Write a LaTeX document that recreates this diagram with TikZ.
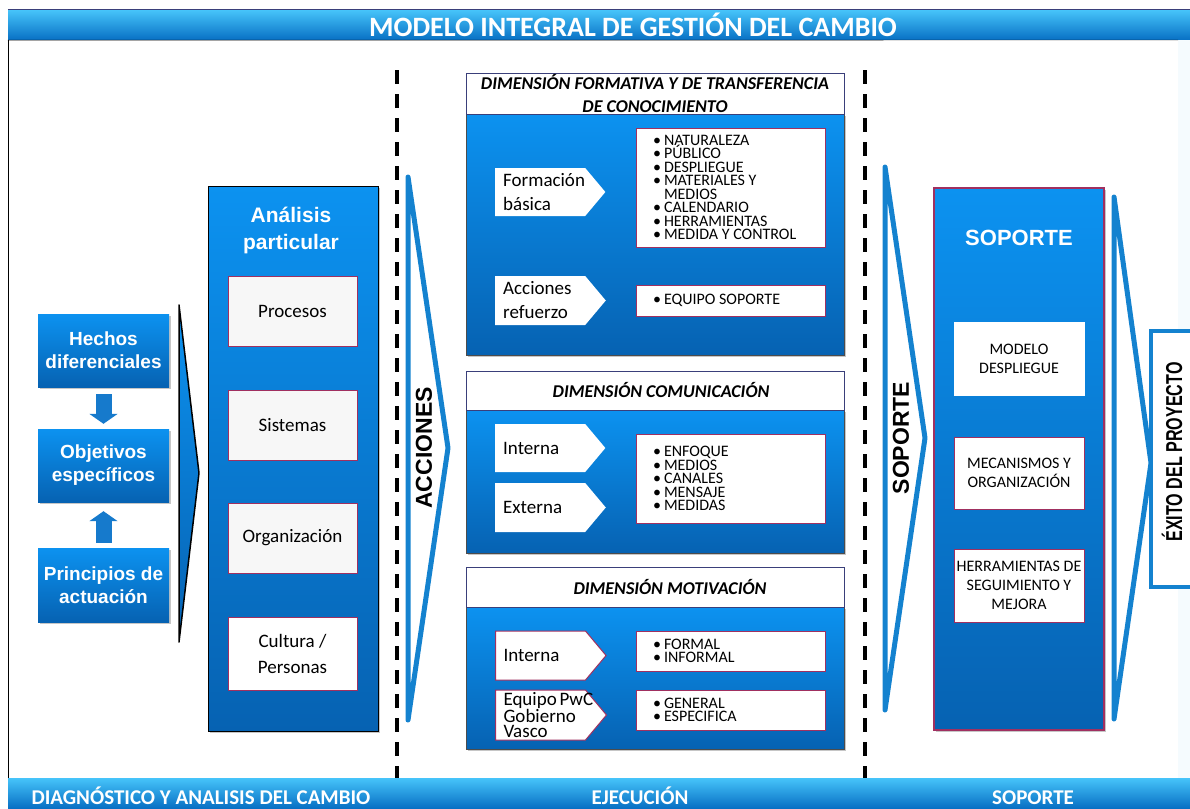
\documentclass[tikz,border=0pt]{standalone}
\usepackage{fontspec}
\setmainfont{Carlito}
\newfontfamily\arial{Liberation Sans}
\usetikzlibrary{shapes.symbols,shadows,arrows.meta}

\definecolor{azulclaro}{RGB}{12,146,240}
\definecolor{azuloscuro}{RGB}{6,98,178}
\definecolor{azulmedio}{RGB}{22,122,204}
\definecolor{bandaclaro}{RGB}{70,196,250}
\definecolor{bandaoscuro}{RGB}{8,112,196}
\definecolor{borde}{RGB}{160,48,96}
\definecolor{marino}{RGB}{58,63,122}
\definecolor{trazo}{RGB}{20,130,207}

\newcommand{\punto}[1]{\makebox[11pt][l]{\textbullet}#1}

\tikzstyle{sombra} = [drop shadow={shadow xshift=2pt, shadow yshift=-2pt, opacity=.45}]
\tikzstyle{azul} = [top color=azulclaro, bottom color=azuloscuro]
\tikzstyle{banda} = [top color=bandaclaro, bottom color=bandaoscuro, minimum width=1182pt, minimum height=30pt, inner sep=0pt]
\tikzstyle{pie} = [text=white, font=\bfseries\fontsize{21}{24}\selectfont]
\tikzstyle{hecho} = [azul, sombra, minimum width=131pt, minimum height=73pt, align=center, text=white, font=\arial\bfseries\fontsize{19}{23}\selectfont]
\tikzstyle{columna} = [azul, draw=black, sombra, minimum width=170pt]
\tikzstyle{area} = [draw=borde, line width=1pt, fill=black!3, minimum width=129pt, minimum height=70pt, align=center, font=\fontsize{19}{26}\selectfont]
\tikzstyle{cabecera} = [draw=marino, line width=1pt, fill=white, minimum width=378pt, inner ysep=1pt, align=center, font=\bfseries\itshape\fontsize{18}{23}\selectfont]
\tikzstyle{cuerpo} = [azul, draw=black!70, sombra, minimum width=378pt]
\tikzstyle{flecha} = [signal, signal to=east, signal pointer angle=100, fill=white, anchor=west, text width=74pt, inner xsep=8pt, align=flush left, minimum height=48pt, font=\fontsize{19}{24}\selectfont]
\tikzstyle{lista} = [draw=borde, line width=1pt, fill=white, minimum width=189pt, text width=155pt, inner xsep=17pt, align=flush left, font=\fontsize{16}{13.5}\selectfont]
\tikzstyle{soporte} = [draw=borde, line width=1pt, fill=white, minimum width=130pt, minimum height=73pt, inner xsep=1pt, align=center, font=\fontsize{16}{19}\selectfont]
\tikzstyle{chevron} = [draw=trazo, line width=5pt, line join=round]
\tikzstyle{girado} = [rotate=90, font=\arial\bfseries\fontsize{23}{26}\selectfont]
\tikzstyle{corte} = [line width=4pt, dash pattern=on 14pt off 10pt]
\tikzstyle{bloque} = [draw=azulmedio, line width=16pt, -{Triangle[length=10pt,width=28pt]}]

\begin{document}
\begin{tikzpicture}[x=1pt, y=-1pt]
  \useasboundingbox (0,0) rectangle (1190,808);
  \fill[azulclaro!4] (1178,40) rectangle (1190,778);

  \node[banda] (bandasup) at (599,25) {};
  \draw[marino, line width=1pt] (bandasup.north west) -- (bandasup.north east);
  \node[text=white, font=\bfseries\fontsize{28}{30}\selectfont] (titulo) at (633,25) {MODELO INTEGRAL DE GESTIÓN DEL CAMBIO};
  \node[banda] (bandainf) at (599,793) {};
  \draw (bandasup.south west) -- (bandainf.north west);
  \draw (bandasup.south west) -- (1178,40);
  \node[pie, anchor=west] (diagnostico) at (28,796) {DIAGNÓSTICO Y ANALISIS DEL CAMBIO};
  \node[pie] (ejecucion) at (640,796) {EJECUCIÓN};
  \node[pie] (pieSoporte) at (1033,798) {SOPORTE};

  \draw[corte] (397,70) -- (397,778);
  \draw[corte] (865,70) -- (865,778);

  \node[hecho] (hechos) at (103.5,350.5) {Hechos\\diferenciales};
  \node[hecho] (objetivos) at (103.5,465.5) {Objetivos\\específicos};
  \node[hecho, minimum height=74pt] (principios) at (103.5,585) {Principios de\\actuación};
  \draw[bloque, shorten <=7pt, shorten >=5pt] (hechos) -- (objetivos);
  \draw[bloque, shorten <=5pt, shorten >=9pt] (principios) -- (objetivos);
  \draw[azul, draw=black, line width=1.5pt, line join=round] (179,305) -- (199,473) -- (179,642) -- cycle;

  \node[columna, minimum height=545pt] (analisis) at (293,458.5) {};
  \node[text=white, align=center, font=\arial\bfseries\fontsize{21}{27}\selectfont] (titAnalisis) at (291,230) {Análisis\\particular};
  \node[area] (procesos) at (292.5,311.5) {Procesos};
  \node[area] (sistemas) at (292.5,425.5) {Sistemas};
  \node[area] (organizacion) at (292.5,538) {Organización};
  \node[area, fill=white, minimum height=73pt] (cultura) at (292.5,653.5) {Cultura /\\Personas};

  \draw[chevron] (408,177) -- (448,448) -- (408,720) -- cycle;
  \node[girado] (acciones) at (424,448) {ACCIONES};

  \node[cuerpo, minimum height=241pt] (cuerpoA) at (655,234.5) {};
  \node[cabecera, minimum height=40pt] (dimA) at (655,94) {DIMENSIÓN FORMATIVA Y DE TRANSFERENCIA\\DE CONOCIMIENTO};
  \node[flecha] (formacion) at (495,192) {Formación\\básica};
  \node[flecha, minimum height=49pt] (refuerzo) at (495,300.5) {Acciones\\refuerzo};
  \node[lista, minimum height=119pt] (contenidos) at (730.5,187.5) {\punto{NATURALEZA}\\\punto{PÚBLICO}\\\punto{DESPLIEGUE}\\\punto{MATERIALES Y}\\\hspace*{11pt}MEDIOS\\\punto{CALENDARIO}\\\punto{HERRAMIENTAS}\\\punto{MEDIDA Y CONTROL}};
  \node[lista, minimum height=31pt] (equipo) at (730.5,300.5) {\punto{EQUIPO SOPORTE}};

  \node[cuerpo, minimum height=143pt] (cuerpoB) at (655,481.5) {};
  \node[cabecera, minimum height=39pt] (dimB) at (655,390.5) {\hspace*{12pt}DIMENSIÓN COMUNICACIÓN};
  \node[flecha] (internaB) at (495,448) {Interna};
  \node[flecha, minimum height=49pt] (externa) at (495,507.5) {Externa};
  \node[lista, minimum height=89pt] (canales) at (730.5,478.5) {\punto{ENFOQUE}\\\punto{MEDIOS}\\\punto{CANALES}\\\punto{MENSAJE}\\\punto{MEDIDAS}};

  \node[cuerpo, minimum height=142pt] (cuerpoC) at (655,678) {};
  \node[cabecera, minimum height=40pt] (dimC) at (655,587) {\hspace*{30pt}DIMENSIÓN MOTIVACIÓN};
  \node[flecha, draw=borde, line width=1pt, minimum height=49pt] (internaC) at (495,655.5) {Interna};
  \node[flecha, draw=borde, line width=1pt, inner ysep=0pt, minimum height=50pt, font=\fontsize{19}{15}\selectfont] (pwc) at (495,715) {Equipo~PwC\\Gobierno\\Vasco};
  \node[lista, minimum height=40pt] (formal) at (730.5,651) {\punto{FORMAL}\\\punto{INFORMAL}};
  \node[lista, minimum height=40pt] (general) at (730.5,710) {\punto{GENERAL}\\\punto{ESPECIFICA}};

  \draw[chevron] (885,167) -- (925,438) -- (885,710) -- cycle;
  \node[girado] (soporteTxt) at (901,438) {SOPORTE};

  \node[columna, draw=borde, line width=1.5pt, minimum height=542pt] (soporte) at (1019,459) {};
  \node[text=white, font=\arial\bfseries\fontsize{22}{26}\selectfont] (titSoporte) at (1019,238) {SOPORTE};
  \node[soporte, draw=white] (modelo) at (1019,358.5) {MODELO\\DESPLIEGUE};
  \node[soporte, minimum height=72pt] (mecanismos) at (1019,473) {MECANISMOS Y\\ORGANIZACIÓN};
  \node[soporte] (herramientas) at (1019,585.5) {HERRAMIENTAS DE\\SEGUIMIENTO Y\\MEJORA};

  \draw[chevron] (1114,197) -- (1151,463) -- (1114,719) -- cycle;
  \node[draw=trazo, line width=4pt, fill=white, minimum width=52pt, minimum height=256pt] (exito) at (1177,459) {};
  \node[girado] (exitoTxt) at (1172,452) {\scalebox{0.7}[1]{ÉXITO DEL PROYECTO}};
\end{tikzpicture}
\end{document}
